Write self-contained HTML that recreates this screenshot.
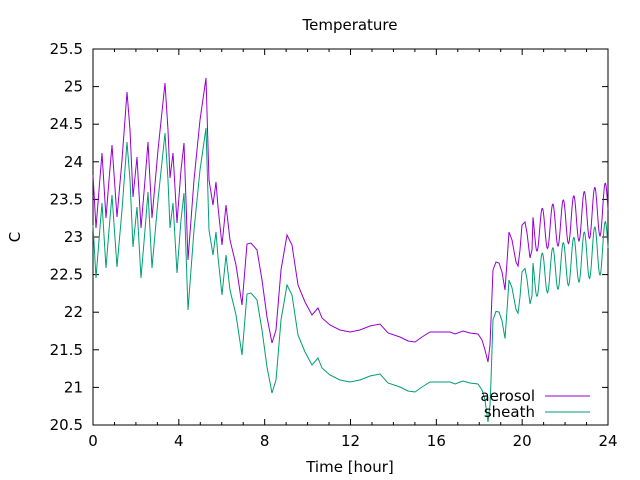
<!DOCTYPE html>
<html><head><meta charset="utf-8"><style>
body{margin:0;background:#fff}
svg{display:block}
text{font-family:"DejaVu Sans","Liberation Sans",sans-serif;font-size:15px;fill:#000}
</style></head><body>
<svg id="s" width="640" height="480" xmlns="http://www.w3.org/2000/svg">
<rect x="93" y="49" width="515" height="376" fill="none" stroke="#000" stroke-width="1"/>
<g id="ticks" stroke="#000" stroke-width="1"></g>
<g id="lbl"></g>
<text x="350" y="30" text-anchor="middle">Temperature</text>
<text x="350" y="472" text-anchor="middle">Time [hour]</text>
<text x="0" y="0" text-anchor="middle" transform="translate(20,237) rotate(-90)">C</text>
<polyline id="a" fill="none" stroke="#9400d3" stroke-width="1"/>
<polyline id="b" fill="none" stroke="#009e73" stroke-width="1"/>
<text x="535" y="401" text-anchor="end">aerosol</text>
<line x1="545" y1="396" x2="590" y2="396" stroke="#9400d3"/>
<text x="535" y="417" text-anchor="end">sheath</text>
<line x1="545" y1="412" x2="590" y2="412" stroke="#009e73"/>
</svg>
<script>
var ns="http://www.w3.org/2000/svg",T=document.getElementById("ticks"),L=document.getElementById("lbl");
function ln(x1,y1,x2,y2){var l=document.createElementNS(ns,"line");l.setAttribute("x1",x1);l.setAttribute("y1",y1);l.setAttribute("x2",x2);l.setAttribute("y2",y2);T.appendChild(l);}
function tx(x,y,s,a){var t=document.createElementNS(ns,"text");t.setAttribute("x",x);t.setAttribute("y",y);t.setAttribute("text-anchor",a);t.textContent=s;L.appendChild(t);}
for(var h=0;h<=24;h++){var x=93+h*515/24,len=h%4==0?6:3;ln(x,425,x,425-len);ln(x,49,x,49+len);if(h%4==0)tx(x,446,""+h,"middle");}
for(var i=0;i<=10;i++){var v=20.5+i*0.5,y=425-i*37.6;ln(93,y,99,y);ln(608,y,602,y);tx(83,y+5,(v%1==0?v.toFixed(0):v.toFixed(1)),"end");}
var A=[[93,175],[96,228],[99,190],[102,153],[106,218],[109,180],[112,145],[117,217],[122,160],[127,92],[130,130],[133,197],[137,157],[141,228],[145,180],[148,142],[152,218],[158,150],[165,83],[168,130],[170,178],[173,153],[177,223],[181,170],[184,143],[188,260],[194,180],[200,120],[206,78],[209,180],[213,205],[216,182],[218,207],[222,245],[226,205],[230,240],[236,265],[242,305],[247,244],[251,243],[257,250],[262,280],[267,317],[272,343],[276,330],[281,270],[287,235],[292,245],[298,285],[305,302],[312,315],[318,308],[322,318],[330,325],[340,330],[350,332],[360,330],[370,326],[380,324],[388,333],[400,337],[408,341],[415,342],[422,337],[430,332],[440,332],[450,332],[455,334],[463,331],[470,333],[478,334],[482,340],[485,350],[488,362],[490,345],[491,320],[493,270],[496,262],[499,263],[502,272],[505,290],[507,262],[509,232],[512,240],[516,262],[518,266],[520,250],[522,225],[525,222],[527,233],[530,258],[532,250]];
for(var x=533;x<=608;x+=0.5){var f=(x-533)/75,tr=252-18*f,amp=40+12*f;A.push([x,tr-amp/2+amp/2*Math.cos((x-537)*2*Math.PI/10.5)]);}
var B=A.map(function(p){var off=p[0]<490?50:50-(p[0]-490)*0.1;if(p[0]>=488&&p[0]<=492)off=60;var y=p[1]+off;if(y>423)y=423;return [p[0],y];});
document.getElementById("a").setAttribute("points",A.map(function(p){return p[0]+","+p[1].toFixed(1)}).join(" "));
document.getElementById("b").setAttribute("points",B.map(function(p){return p[0]+","+p[1].toFixed(1)}).join(" "));
</script>
</body></html>
